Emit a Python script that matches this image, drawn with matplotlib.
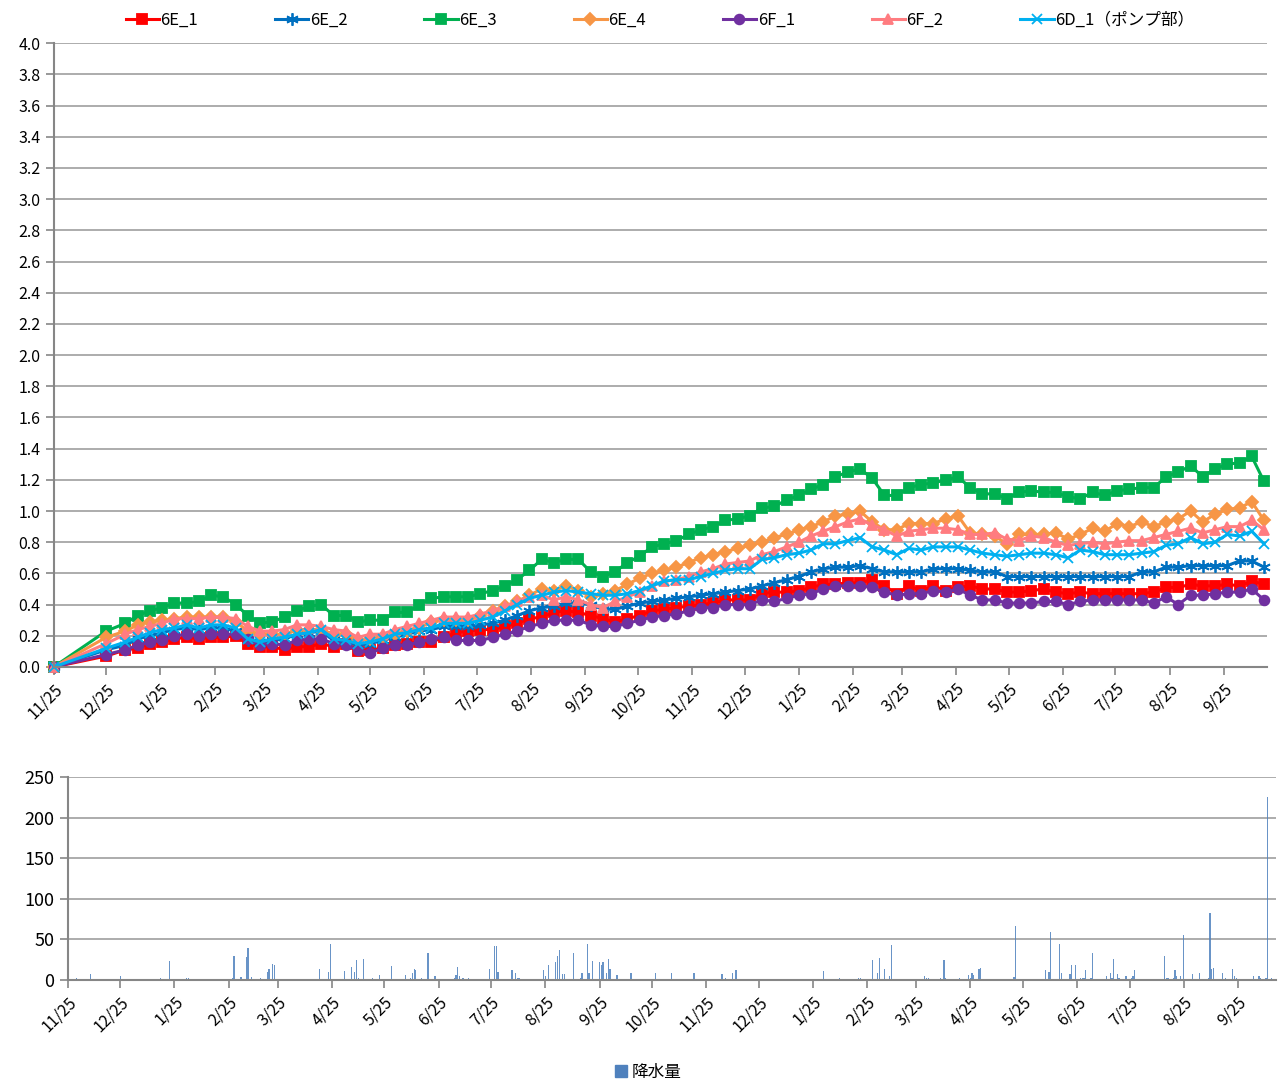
import numpy as np
import pandas as pd
import matplotlib
matplotlib.use("Agg")
import matplotlib.pyplot as plt
import matplotlib.dates as mdates
from matplotlib.patches import Patch
from matplotlib.ticker import FuncFormatter

plt.rcParams['font.family'] = ['Noto Sans CJK JP', 'DejaVu Sans']

# measurement dates: start, one month later, then weekly
dates = pd.to_datetime(['2013-11-25', '2013-12-25']).append(
    pd.date_range('2014-01-05', periods=94, freq='7D'))

e1 = [0.00, 0.07,
      0.11, 0.12, 0.15, 0.16, 0.18, 0.19, 0.18, 0.19, 0.19, 0.20, 0.15,
      0.13, 0.13, 0.11, 0.13, 0.13, 0.15, 0.13, 0.15, 0.10, 0.11, 0.12, 0.14, 0.15, 0.16, 0.16, 0.19, 0.22,
      0.23, 0.24, 0.24, 0.26, 0.28, 0.31, 0.32, 0.35, 0.36, 0.35, 0.33, 0.31, 0.29, 0.31, 0.33, 0.36, 0.37,
      0.38, 0.39, 0.40, 0.41, 0.43, 0.43, 0.43, 0.47, 0.48, 0.48, 0.49, 0.51, 0.53, 0.53, 0.54, 0.54,
      0.56, 0.52, 0.47, 0.52, 0.49, 0.52, 0.49, 0.51, 0.52, 0.50, 0.50, 0.48, 0.48, 0.49, 0.50, 0.48, 0.47,
      0.48, 0.47, 0.47, 0.47, 0.47, 0.47, 0.48, 0.51, 0.51, 0.53, 0.52, 0.52, 0.53, 0.52, 0.55, 0.53]
e2 = [0.00, 0.11,
      0.14, 0.18, 0.20, 0.22, 0.24, 0.25, 0.24, 0.25, 0.25, 0.23, 0.17,
      0.16, 0.17, 0.18, 0.21, 0.22, 0.23, 0.17, 0.16, 0.14, 0.15, 0.17, 0.19, 0.21, 0.23, 0.24, 0.26, 0.26,
      0.26, 0.27, 0.28, 0.30, 0.33, 0.36, 0.38, 0.39, 0.41, 0.41, 0.40, 0.37, 0.37, 0.39, 0.41, 0.42, 0.43,
      0.44, 0.45, 0.46, 0.47, 0.48, 0.49, 0.50, 0.52, 0.54, 0.56, 0.58, 0.61, 0.63, 0.64, 0.64, 0.65,
      0.63, 0.61, 0.61, 0.61, 0.61, 0.63, 0.63, 0.63, 0.62, 0.61, 0.61, 0.58, 0.58, 0.58, 0.58, 0.58, 0.58,
      0.58, 0.58, 0.58, 0.58, 0.58, 0.61, 0.61, 0.64, 0.64, 0.65, 0.65, 0.65, 0.65, 0.68, 0.68, 0.64]
e3 = [0.00, 0.23,
      0.28, 0.33, 0.36, 0.38, 0.41, 0.41, 0.42, 0.46, 0.45, 0.40, 0.33,
      0.28, 0.29, 0.32, 0.36, 0.39, 0.40, 0.33, 0.33, 0.29, 0.30, 0.30, 0.35, 0.35, 0.40, 0.44, 0.45, 0.45,
      0.45, 0.47, 0.49, 0.52, 0.56, 0.62, 0.69, 0.67, 0.69, 0.69, 0.61, 0.58, 0.61, 0.67, 0.71, 0.77, 0.79,
      0.81, 0.85, 0.88, 0.90, 0.94, 0.95, 0.97, 1.02, 1.03, 1.07, 1.10, 1.14, 1.17, 1.22, 1.25, 1.27,
      1.21, 1.10, 1.10, 1.15, 1.17, 1.18, 1.20, 1.22, 1.15, 1.11, 1.11, 1.08, 1.12, 1.13, 1.12, 1.12, 1.09,
      1.08, 1.12, 1.10, 1.13, 1.14, 1.15, 1.15, 1.22, 1.25, 1.29, 1.22, 1.27, 1.30, 1.31, 1.35, 1.19]
e4 = [0.00, 0.19,
      0.23, 0.27, 0.29, 0.30, 0.31, 0.32, 0.32, 0.32, 0.32, 0.29, 0.23,
      0.21, 0.21, 0.21, 0.24, 0.24, 0.24, 0.21, 0.21, 0.17, 0.18, 0.19, 0.21, 0.23, 0.25, 0.29, 0.30, 0.30,
      0.30, 0.33, 0.36, 0.39, 0.42, 0.46, 0.50, 0.49, 0.52, 0.49, 0.45, 0.47, 0.49, 0.53, 0.57, 0.60, 0.62,
      0.64, 0.67, 0.70, 0.72, 0.74, 0.76, 0.78, 0.80, 0.83, 0.85, 0.88, 0.90, 0.93, 0.97, 0.98, 1.00,
      0.93, 0.88, 0.88, 0.92, 0.92, 0.92, 0.95, 0.97, 0.86, 0.85, 0.84, 0.79, 0.85, 0.85, 0.85, 0.86, 0.82,
      0.85, 0.89, 0.87, 0.92, 0.90, 0.93, 0.90, 0.93, 0.95, 1.00, 0.93, 0.98, 1.01, 1.02, 1.06, 0.94]
f1 = [0.00, 0.08,
      0.11, 0.14, 0.16, 0.17, 0.20, 0.21, 0.20, 0.21, 0.21, 0.21, 0.18,
      0.14, 0.15, 0.14, 0.17, 0.18, 0.18, 0.15, 0.14, 0.11, 0.09, 0.12, 0.14, 0.14, 0.16, 0.18, 0.19, 0.17,
      0.17, 0.17, 0.19, 0.21, 0.23, 0.26, 0.28, 0.30, 0.30, 0.30, 0.27, 0.26, 0.26, 0.28, 0.30, 0.32, 0.33,
      0.34, 0.36, 0.38, 0.38, 0.40, 0.40, 0.40, 0.43, 0.42, 0.44, 0.46, 0.47, 0.50, 0.52, 0.52, 0.52,
      0.51, 0.48, 0.46, 0.47, 0.47, 0.49, 0.48, 0.50, 0.46, 0.43, 0.43, 0.41, 0.41, 0.41, 0.42, 0.42, 0.40,
      0.42, 0.43, 0.43, 0.43, 0.43, 0.43, 0.41, 0.45, 0.40, 0.46, 0.46, 0.47, 0.48, 0.48, 0.50, 0.43]
f2 = [0.00, 0.15,
      0.21, 0.24, 0.26, 0.28, 0.31, 0.31, 0.31, 0.32, 0.32, 0.31, 0.26,
      0.23, 0.23, 0.24, 0.27, 0.27, 0.26, 0.24, 0.23, 0.19, 0.21, 0.21, 0.24, 0.26, 0.28, 0.30, 0.32, 0.32,
      0.32, 0.34, 0.36, 0.39, 0.42, 0.45, 0.46, 0.43, 0.45, 0.43, 0.40, 0.38, 0.42, 0.45, 0.48, 0.52, 0.55,
      0.56, 0.58, 0.61, 0.63, 0.66, 0.67, 0.68, 0.72, 0.74, 0.77, 0.80, 0.84, 0.87, 0.90, 0.93, 0.95,
      0.91, 0.88, 0.84, 0.87, 0.88, 0.89, 0.89, 0.88, 0.85, 0.85, 0.86, 0.82, 0.81, 0.84, 0.83, 0.80, 0.78,
      0.79, 0.80, 0.79, 0.80, 0.81, 0.81, 0.83, 0.85, 0.87, 0.89, 0.86, 0.88, 0.90, 0.90, 0.94, 0.88]
d1 = [0.00, 0.12,
      0.16, 0.19, 0.22, 0.24, 0.25, 0.27, 0.25, 0.27, 0.27, 0.25, 0.18,
      0.16, 0.18, 0.19, 0.21, 0.22, 0.24, 0.18, 0.17, 0.15, 0.16, 0.18, 0.21, 0.22, 0.24, 0.25, 0.28, 0.28,
      0.28, 0.30, 0.32, 0.36, 0.40, 0.44, 0.46, 0.48, 0.49, 0.48, 0.47, 0.46, 0.46, 0.47, 0.49, 0.52, 0.55,
      0.56, 0.56, 0.58, 0.60, 0.62, 0.63, 0.63, 0.69, 0.70, 0.72, 0.73, 0.75, 0.79, 0.79, 0.81, 0.83,
      0.77, 0.75, 0.72, 0.76, 0.75, 0.77, 0.77, 0.77, 0.75, 0.73, 0.72, 0.71, 0.72, 0.73, 0.73, 0.72, 0.70,
      0.75, 0.74, 0.72, 0.72, 0.72, 0.73, 0.74, 0.78, 0.79, 0.83, 0.79, 0.80, 0.85, 0.84, 0.87, 0.79]

# daily rainfall (day number counted from 2013-11-25, mm); other days are 0
rain_start = '2013-11-25'
rain_day = [5, 9, 13, 30, 45, 53, 58, 68, 69, 89, 90, 94, 95, 99, 102, 103, 105, 110, 114, 115, 117, 118,
            143, 144, 149, 150, 158, 162, 164, 165, 166, 169, 174, 178, 185, 193, 196, 197, 198, 199, 202,
            206, 210, 214, 221, 222, 223, 224, 226, 229, 241, 244, 245, 246, 254, 256, 257, 258, 264,
            272, 273, 275, 279, 280, 281, 283, 284, 286, 289, 293, 294, 297, 298, 300, 304, 305, 306,
            308, 309, 310, 314, 315, 321, 322, 328, 336, 344, 345, 349, 358, 368, 374, 376, 380, 382, 387,
            432, 438, 441, 452, 453, 460, 461, 463, 464, 466, 467, 470, 471, 490, 491, 492, 499, 501, 502,
            510, 515, 516, 517, 518, 521, 522, 525, 541, 542, 559, 561, 562, 567, 568, 573, 574, 576,
            579, 580, 581, 582, 585, 586, 588, 593, 594, 596, 597, 598, 600, 601, 604, 605, 608, 609, 610,
            625, 627, 628, 629, 632, 633, 634, 636, 638, 643, 647, 652, 653, 654, 655, 660, 662, 666,
            667, 668, 678, 681, 682, 685, 686, 688, 691]
rain_mm = [2, 1, 7, 5, 1, 2, 24, 3, 3, 1, 1, 2, 29, 4, 28, 39, 4, 2, 10, 14, 20, 19,
           1, 14, 10, 44, 11, 16, 10, 25, 2, 26, 3, 6, 17, 6, 2, 9, 13, 12, 3,
           33, 5, 1, 2, 6, 16, 5, 3, 2, 14, 42, 42, 10, 12, 9, 2, 2, 1,
           12, 5, 19, 22, 29, 37, 7, 7, 1, 33, 3, 9, 44, 9, 23, 22, 19, 22,
           9, 26, 14, 6, 1, 1, 9, 1, 9, 1, 9, 1, 9, 1, 7, 2, 9, 12, 1,
           11, 1, 2, 2, 3, 25, 1, 9, 27, 1, 14, 5, 43, 5, 2, 3, 2, 25, 2,
           3, 6, 3, 9, 6, 14, 15, 1, 4, 67, 12, 10, 59, 44, 9, 7, 19, 19,
           3, 3, 3, 12, 2, 33, 1, 1, 5, 9, 3, 26, 7, 2, 1, 5, 2, 5, 12,
           1, 30, 3, 3, 2, 12, 5, 5, 55, 7, 9, 2, 83, 14, 15, 9, 3, 14,
           5, 2, 5, 5, 2, 3, 225, 2, 2]

series = [
    ('6E_1', e1, '#FF0000', 's', 7),
    ('6E_2', e2, '#0070C0', (6, 2, 0), 9),
    ('6E_3', e3, '#00B050', 's', 7),
    ('6E_4', e4, '#F79646', 'D', 6),
    ('6F_1', f1, '#7030A0', 'o', 7),
    ('6F_2', f2, '#FF7C80', '^', 7.5),
    ('6D_1（ポンプ部）', d1, '#00B0F0', 'x', 7),
]

grid_c = '#A6A6A6'
axis_c = '#868686'
start = pd.Timestamp('2013-11-25')
end = pd.Timestamp('2015-10-20')


def md_fmt(v, pos):
    d = mdates.num2date(v)
    return f"{d.month}/{d.day}"


def style_axes(ax):
    ax.grid(axis='y', color=grid_c, lw=1.3)
    ax.set_axisbelow(True)
    for s in ['top', 'right']:
        ax.spines[s].set_visible(False)
    for s in ['left', 'bottom']:
        ax.spines[s].set_color(axis_c)
        ax.spines[s].set_linewidth(1.5)
    ax.tick_params(colors=axis_c, width=1.2, length=6, labelcolor='black')
    ax.xaxis.set_major_locator(mdates.MonthLocator(bymonthday=25))
    ax.xaxis.set_major_formatter(FuncFormatter(md_fmt))
    for lab in ax.get_xticklabels():
        lab.set_rotation(45)
        lab.set_ha('right')
        lab.set_rotation_mode('anchor')


fig = plt.figure(figsize=(12.79, 10.81), dpi=100)
ax = fig.add_axes([0.042, 0.383, 0.949, 0.577])
ax2 = fig.add_axes([0.053, 0.0934, 0.945, 0.1878])

for name, vals, col, mk, ms in series:
    ax.plot(dates, vals, color=col, lw=2.2, marker=mk, markersize=ms,
            markeredgecolor=col, markeredgewidth=1.3, label=name, clip_on=False)

ax.set_xlim(start, end)
ax.set_ylim(0, 4.0)
ax.set_yticks(np.arange(0, 4.01, 0.2))
ax.yaxis.set_major_formatter(FuncFormatter(lambda v, p: f"{v:.1f}"))
style_axes(ax)
ax.tick_params(labelsize=11.5)

rain_dates = pd.Timestamp(rain_start) + pd.to_timedelta(rain_day, unit='D')
ax2.bar(rain_dates, rain_mm, width=0.7, color='#4F81BD', alpha=0.85, label='降水量')
ax2.set_xlim(start, pd.Timestamp('2015-10-17'))
ax2.set_ylim(0, 250)
ax2.set_yticks(range(0, 251, 50))
style_axes(ax2)
ax2.tick_params(axis='y', labelsize=13)
ax2.tick_params(axis='x', labelsize=11.5)

fig.legend(*ax.get_legend_handles_labels(), loc='center', bbox_to_anchor=(0.516, 0.981),
           ncol=7, frameon=False, fontsize=12, handlelength=2.0, handletextpad=0.1,
           columnspacing=4.6)
fig.legend(handles=[Patch(color='#4F81BD', label='降水量')], loc='center',
           bbox_to_anchor=(0.507, 0.008), frameon=False, fontsize=12,
           handlelength=0.7, handleheight=0.7, handletextpad=0.3)

fig.savefig('out.png', dpi=100)
